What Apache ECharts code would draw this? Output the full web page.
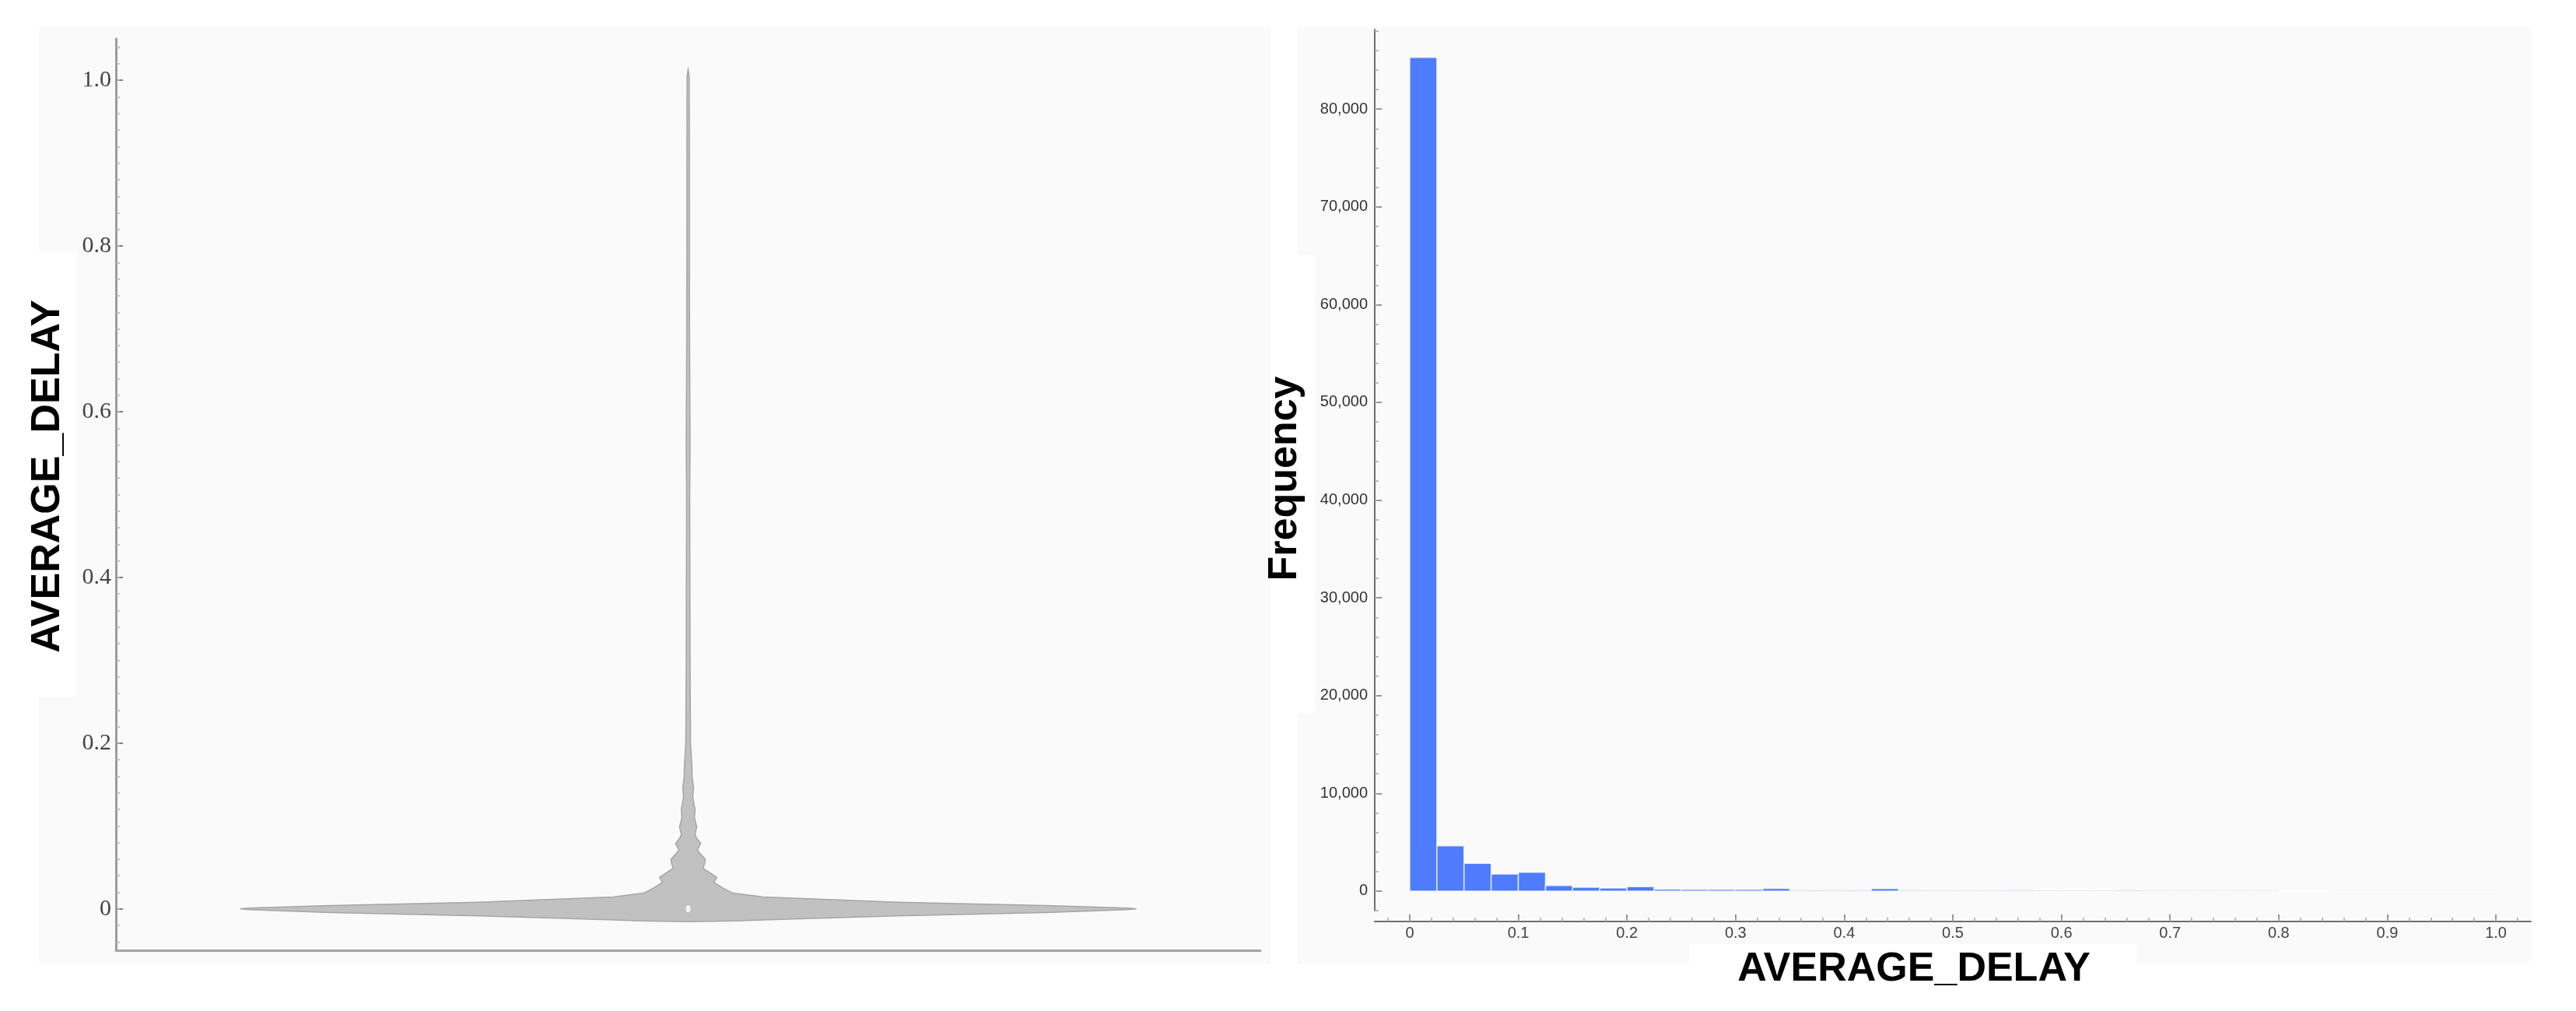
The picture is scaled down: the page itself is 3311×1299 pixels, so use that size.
<!DOCTYPE html>
<html>
<head>
<meta charset="utf-8">
<title>AVERAGE_DELAY</title>
<script src="https://cdn.jsdelivr.net/npm/echarts@6/dist/echarts.min.js"></script>
<style>
html, body { margin: 0; padding: 0; background: #fff; }
#chart { width: 3311px; height: 1299px; }
</style>
</head>
<body>
<div id="chart"></div>
<script>
// violin outline: value on the y axis, half width in x-axis units (axis runs -1..1)
const violinValue = [
  -0.0155, -0.0145, -0.013, -0.0085, -0.0044, -0.001, 0, 0.001, 0.004, 0.008,
  0.0144, 0.0166, 0.019, 0.025, 0.032, 0.038, 0.044, 0.049, 0.055, 0.060,
  0.066, 0.071, 0.079, 0.085, 0.090, 0.099, 0.11, 0.12, 0.135, 0.146,
  0.16, 0.17, 0.2, 0.3, 0.5, 0.56, 0.7, 0.9, 1.005, 1.013
]
const violinHalfWidth = [
  0, 0.082, 0.150, 0.367, 0.625, 0.768, 0.783, 0.768, 0.625, 0.367,
  0.131, 0.105, 0.078, 0.061, 0.045, 0.050, 0.037, 0.026, 0.029, 0.030,
  0.022, 0.016, 0.022, 0.015, 0.012, 0.015, 0.011, 0.012, 0.008, 0.0095,
  0.0068, 0.0068, 0.0041, 0.0034, 0.0027, 0.0034, 0.0024, 0.0022, 0.0019, 0
]
const violinMedian = 0

// histogram, bins of 0.025 starting at 0
const binWidth = 0.025
const histCounts = [
  85300, 4630, 2830, 1750, 1930, 570, 390, 300, 440, 190,
  170, 170, 160, 260, 90, 90, 90, 240, 90, 80,
  80, 80, 90, 50, 50, 50, 90, 30, 30, 30,
  30, 30, 0, 0, 4, 5, 3, 6, 4, 3
]

// tick labels
const leftTicks = [0, 0.2, 0.4, 0.6, 0.8, 1.0]
const freqTicks = [0, 10000, 20000, 30000, 40000, 50000, 60000, 70000, 80000]
const delayTicks = [0, 0.1, 0.2, 0.3, 0.4, 0.5, 0.6, 0.7, 0.8, 0.9, 1.0]

const steps = (from, to, step) => {
  const out = []
  for (let v = from; v <= to + step / 2; v += step) out.push(+v.toFixed(6))
  return out
}
const leftMinor = steps(-0.04, 1.04, 0.02)
const freqMinor = steps(-2000, 88000, 2000)
const delayMinor = steps(-0.02, 1.02, 0.02)

const fmtDec = v => (v === 0 ? '0' : v.toFixed(1))

const chart = echarts.init(document.getElementById('chart'))

const leftGrid = { left: 149, top: 50, width: 1471, height: 1171 }
const rightGrid = { left: 1767, top: 38, width: 1486, height: 1132 }

chart.setOption({
  backgroundColor: '#ffffff',
  animation: false,
  graphic: {
    elements: [
      { type: 'rect', z: -10, silent: true, shape: { x: 50, y: 35, width: 1583, height: 1203 }, style: { fill: '#fafafa' } },
      { type: 'rect', z: -10, silent: true, shape: { x: 1668, y: 35, width: 1585, height: 1203 }, style: { fill: '#fafafa' } },
      { type: 'rect', z: -5, silent: true, shape: { x: 0, y: 323, width: 99, height: 572 }, style: { fill: '#ffffff' } },
      { type: 'rect', z: -5, silent: true, shape: { x: 1668, y: 328, width: 22, height: 588 }, style: { fill: '#ffffff' } },
      { type: 'rect', z: -5, silent: true, shape: { x: 2171, y: 1213, width: 575, height: 25 }, style: { fill: '#ffffff' } },
      {
        type: 'text', z: 10, x: 62, y: 612, rotation: Math.PI / 2,
        style: { text: 'AVERAGE_DELAY', fontFamily: 'Liberation Sans', fontWeight: 'bold', fontSize: 52, fill: '#000', align: 'center', verticalAlign: 'middle' }
      },
      {
        type: 'text', z: 10, x: 1652, y: 615, rotation: Math.PI / 2,
        style: { text: 'Frequency', fontFamily: 'Liberation Sans', fontWeight: 'bold', fontSize: 52, fill: '#000', align: 'center', verticalAlign: 'middle' }
      },
      {
        type: 'text', z: 10, x: 2460, y: 1246,
        style: { text: 'AVERAGE_DELAY', fontFamily: 'Liberation Sans', fontWeight: 'bold', fontSize: 52, fill: '#000', align: 'center', verticalAlign: 'middle' }
      }
    ]
  },
  grid: [leftGrid, leftGrid, rightGrid, rightGrid],
  xAxis: [
    {
      gridIndex: 0, type: 'value', min: -1, max: 1,
      axisLine: { show: true, onZero: false, lineStyle: { color: '#a5a5a5', width: 3 } },
      axisTick: { show: false }, axisLabel: { show: false }, splitLine: { show: false }
    },
    { gridIndex: 1, type: 'value', min: -1, max: 1, show: false, axisLine: { onZero: false } },
    {
      gridIndex: 2, type: 'value', min: -0.0322, max: 1.0322, offset: 14,
      axisLine: { show: true, onZero: false, lineStyle: { color: '#707070', width: 2 } },
      axisTick: { show: true, inside: true, length: 9, customValues: delayTicks, lineStyle: { color: '#707070', width: 1.5 } },
      axisLabel: { customValues: delayTicks, formatter: fmtDec, fontFamily: 'Liberation Sans', fontSize: 20, color: '#444', margin: 5 },
      splitLine: { show: false }
    },
    {
      gridIndex: 3, type: 'value', min: -0.0322, max: 1.0322, offset: 14,
      axisLine: { show: false, onZero: false },
      axisTick: { show: true, inside: true, length: 5, customValues: delayMinor, lineStyle: { color: '#a8a8a8', width: 1.5 } },
      axisLabel: { show: false }, splitLine: { show: false }
    }
  ],
  yAxis: [
    {
      gridIndex: 0, type: 'value', min: -0.05, max: 1.05,
      axisLine: { show: true, onZero: false, lineStyle: { color: '#9c9c9c', width: 3 } },
      axisTick: { show: true, inside: true, length: 9, customValues: leftTicks, lineStyle: { color: '#555', width: 1.5 } },
      axisLabel: { customValues: leftTicks, formatter: fmtDec, fontFamily: 'Liberation Serif', fontSize: 30, color: '#444', margin: 6 },
      splitLine: { show: false }
    },
    {
      gridIndex: 1, type: 'value', min: -0.05, max: 1.05,
      axisLine: { show: false, onZero: false },
      axisTick: { show: true, inside: true, length: 5, customValues: leftMinor, lineStyle: { color: '#b4b4b4', width: 1.5 } },
      axisLabel: { show: false }, splitLine: { show: false }
    },
    {
      gridIndex: 2, type: 'value', min: -2000, max: 88140,
      axisLine: { show: true, onZero: false, lineStyle: { color: '#707070', width: 2 } },
      axisTick: { show: true, inside: true, length: 9, customValues: freqTicks, lineStyle: { color: '#707070', width: 1.5 } },
      axisLabel: {
        customValues: freqTicks,
        formatter: v => v.toLocaleString('en-US'),
        fontFamily: 'Liberation Sans', fontSize: 20, color: '#333', margin: 9
      },
      splitLine: { show: false }
    },
    {
      gridIndex: 3, type: 'value', min: -2000, max: 88140,
      axisLine: { show: false, onZero: false },
      axisTick: { show: true, inside: true, length: 5, customValues: freqMinor, lineStyle: { color: '#a8a8a8', width: 1.5 } },
      axisLabel: { show: false }, splitLine: { show: false }
    }
  ],
  series: [
    {
      name: 'violin',
      type: 'custom',
      xAxisIndex: 0,
      yAxisIndex: 0,
      data: [[0, violinMedian]],
      renderItem: (params, api) => {
        const right = violinValue.map((v, i) => api.coord([violinHalfWidth[i], v]))
        const left = violinValue.map((v, i) => api.coord([-violinHalfWidth[i], v])).reverse()
        return {
          type: 'polygon',
          shape: { points: right.concat(left) },
          style: { fill: '#c1c1c1', stroke: '#a6a6a6', lineWidth: 1.5 }
        }
      },
      z: 2
    },
    {
      name: 'median',
      type: 'scatter',
      xAxisIndex: 0,
      yAxisIndex: 0,
      data: [[0, violinMedian]],
      symbol: 'circle',
      symbolSize: [6, 9],
      itemStyle: { color: '#ffffff' },
      z: 3
    },
    {
      name: 'Frequency',
      type: 'custom',
      xAxisIndex: 2,
      yAxisIndex: 2,
      data: histCounts.map((c, i) => [i * binWidth, (i + 1) * binWidth, c]),
      encode: { x: [0, 1], y: 2 },
      renderItem: (params, api) => {
        const p0 = api.coord([api.value(0), 0])
        const p1 = api.coord([api.value(1), api.value(2)])
        return {
          type: 'rect',
          shape: { x: p0[0], y: p1[1], width: p1[0] - p0[0], height: p0[1] - p1[1] },
          style: { fill: '#4f7cfd', stroke: 'rgba(255,255,255,0.75)', lineWidth: 1.5 }
        }
      },
      z: 2
    }
  ]
})

window.addEventListener('resize', () => {
  chart.resize()
})
</script>
</body>
</html>
